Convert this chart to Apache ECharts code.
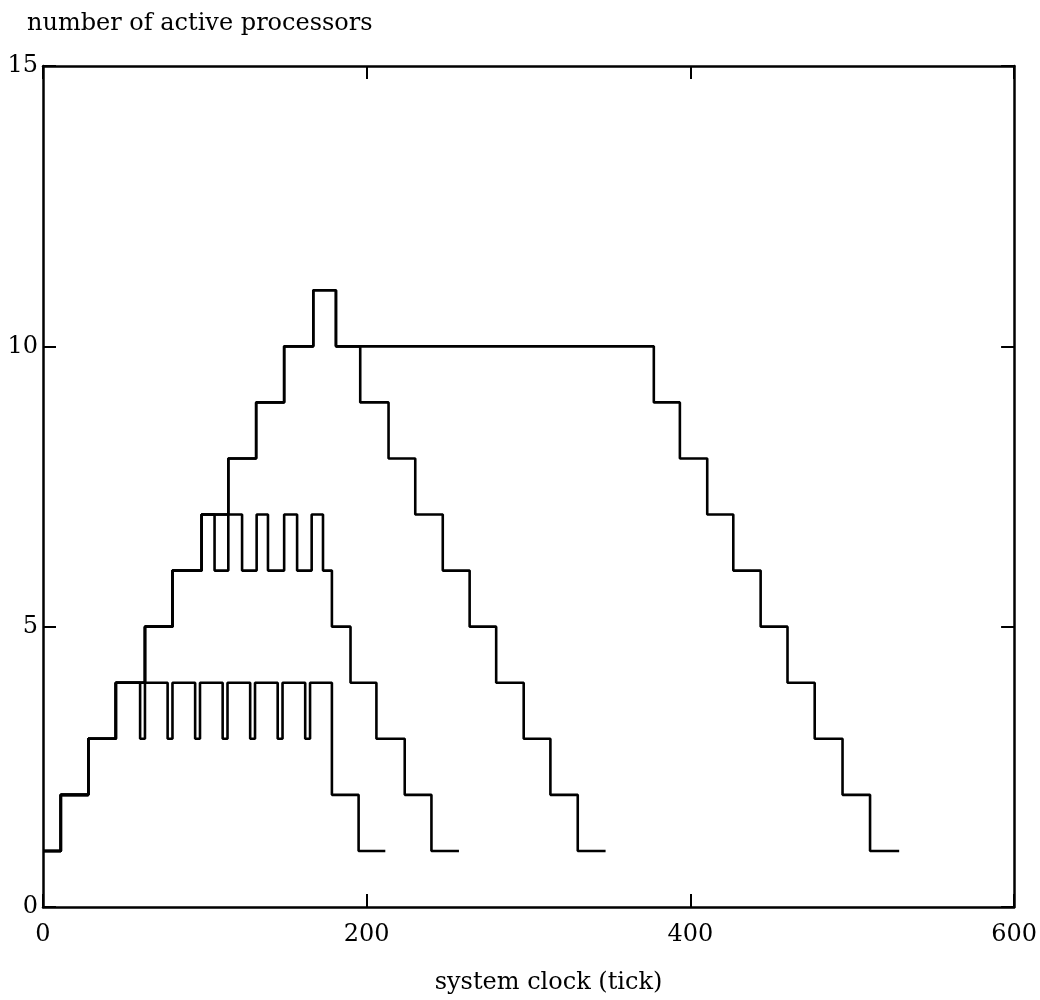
<!DOCTYPE html>
<html><head><meta charset="utf-8">
<script src="https://cdn.jsdelivr.net/npm/echarts@6/dist/echarts.min.js"></script>
<style>html,body{margin:0;padding:0;background:#fff}#c{width:1040px;height:1000px}</style>
</head><body><div id="c"></div>
<script>
// x/y tick labels
const xTickLabels = [0, 200, 400, 600];
const yTickLabels = [0, 5, 10, 15];
// Each series: times where a level starts (last = end time), and the level values
const seriesA_t = [0, 11, 28, 45, 60, 63, 77, 80, 94, 97, 111, 114, 128, 131, 145, 148, 162, 165, 178.5, 195, 211.5];
const seriesA_v = [1, 2, 3, 4, 3, 4, 3, 4, 3, 4, 3, 4, 3, 4, 3, 4, 3, 4, 2, 1, 1];
const seriesB_t = [0, 11, 28, 45, 63, 80, 98, 106, 114.5, 123, 132, 139, 149, 157, 166, 173, 178.5, 190, 206, 223.5, 240, 257];
const seriesB_v = [1, 2, 3, 4, 5, 6, 7, 6, 7, 6, 7, 6, 7, 6, 7, 6, 5, 4, 3, 2, 1, 1];
const seriesC_t = [0, 11, 28, 45, 63, 80, 98, 114.5, 131.7, 149, 167, 181, 196, 213.5, 230, 247, 263.6, 280, 297, 313.5, 330.4, 347.6];
const seriesC_v = [1, 2, 3, 4, 5, 6, 7, 8, 9, 10, 11, 10, 9, 8, 7, 6, 5, 4, 3, 2, 1, 1];
const seriesD_t = [0, 11, 28, 45, 63, 80, 98, 114.5, 131.7, 149, 167, 181, 377.4, 393.5, 410.4, 426.5, 443.4, 460, 476.8, 494, 511, 529];
const seriesD_v = [1, 2, 3, 4, 5, 6, 7, 8, 9, 10, 11, 10, 9, 8, 7, 6, 5, 4, 3, 2, 1, 1];

const FONT = 'DejaVu Serif';
const FS = 24;
const pairs = (t, v) => t.map((x, i) => [x, v[i]]);

function mkX(pos, labels) {
  return {
    type: 'value', position: pos, min: xTickLabels[0], max: xTickLabels[xTickLabels.length - 1],
    interval: xTickLabels[1] - xTickLabels[0],
    axisLine: { show: true, onZero: false, lineStyle: { color: '#000', width: 2.5 } },
    axisTick: { show: true, inside: true, length: 13, lineStyle: { color: '#000', width: 2 } },
    axisLabel: { show: labels, color: '#000', fontFamily: FONT, fontSize: FS, margin: 16 },
    splitLine: { show: false }
  };
}
function mkY(pos, labels) {
  return {
    type: 'value', position: pos, min: yTickLabels[0], max: yTickLabels[yTickLabels.length - 1],
    interval: yTickLabels[1] - yTickLabels[0],
    axisLine: { show: true, onZero: false, lineStyle: { color: '#000', width: 2.5 } },
    axisTick: { show: true, inside: true, length: 13, lineStyle: { color: '#000', width: 2 } },
    axisLabel: { show: labels, color: '#000', fontFamily: FONT, fontSize: FS, margin: 5 },
    splitLine: { show: false }
  };
}

const xMain = mkX('bottom', true);
xMain.name = 'system clock (tick)';
xMain.nameLocation = 'middle';
xMain.nameGap = 64;
xMain.nameTextStyle = { color: '#000', fontFamily: FONT, fontSize: FS, padding: [0, 0, 0, 40] };

const yMain = mkY('left', true);
yMain.name = 'number of active processors';
yMain.nameLocation = 'end';
yMain.nameGap = 30;
yMain.nameTextStyle = { color: '#000', fontFamily: FONT, fontSize: FS, align: 'left', padding: [0, 0, 0, -16] };

function mkSeries(name, t, v) {
  return {
    name, type: 'line', step: 'end', data: pairs(t, v), showSymbol: false, symbol: 'none',
    xAxisIndex: 0, yAxisIndex: 0, animation: false,
    lineStyle: { color: '#000', width: 2.6 }
  };
}

const chart = echarts.init(document.getElementById('c'), null, { renderer: 'canvas' });
chart.setOption({
  backgroundColor: '#fff',
  animation: false,
  grid: { left: 43, right: 24, top: 66, bottom: 82, containLabel: false },
  xAxis: [xMain, mkX('top', false)],
  yAxis: [yMain, mkY('right', false)],
  series: [
    mkSeries('D', seriesD_t, seriesD_v),
    mkSeries('C', seriesC_t, seriesC_v),
    mkSeries('B', seriesB_t, seriesB_v),
    mkSeries('A', seriesA_t, seriesA_v)
  ]
});
</script></body></html>
